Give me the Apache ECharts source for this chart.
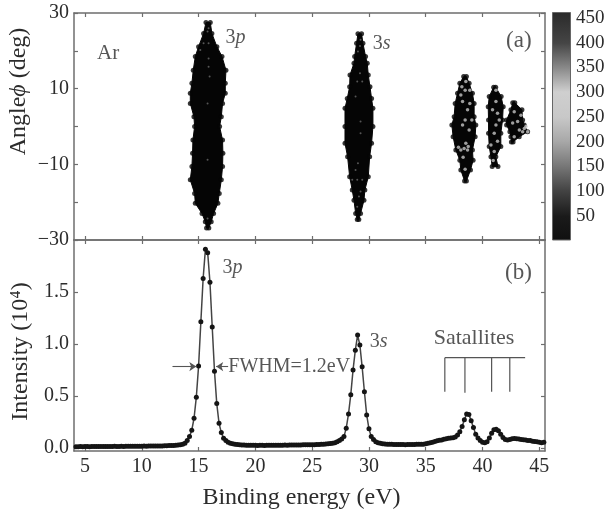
<!DOCTYPE html>
<html>
<head>
<meta charset="utf-8">
<style>html,body{margin:0;padding:0;background:#fff}#c{width:607px;height:511px;filter:blur(0.35px)}</style>
<script src="https://cdn.jsdelivr.net/npm/echarts@6/dist/echarts.min.js"></script>
</head>
<body>
<div id="c"></div>
<script>
// ---------- spectrum (panel b) ----------
const energy = [4.2,4.4,4.6,4.8,5.0,5.2,5.4,5.6,5.8,6.0,6.2,6.4,6.6,6.8,7.0,7.2,7.4,7.6,7.8,8.0,8.2,8.4,8.6,8.8,9.0,9.2,9.4,9.6,9.8,10.0,10.2,10.4,10.6,10.8,11.0,11.2,11.4,11.6,11.8,12.0,12.2,12.4,12.6,12.8,13.0,13.2,13.4,13.6,13.8,14.0,14.2,14.4,14.6,14.8,15.0,15.2,15.4,15.6,15.8,16.0,16.2,16.4,16.6,16.8,17.0,17.2,17.4,17.6,17.8,18.0,18.2,18.4,18.6,18.8,19.0,19.2,19.4,19.6,19.8,20.0,20.2,20.4,20.6,20.8,21.0,21.2,21.4,21.6,21.8,22.0,22.2,22.4,22.6,22.8,23.0,23.2,23.4,23.6,23.8,24.0,24.2,24.4,24.6,24.8,25.0,25.2,25.4,25.6,25.8,26.0,26.2,26.4,26.6,26.8,27.0,27.2,27.4,27.6,27.8,28.0,28.2,28.4,28.6,28.8,29.0,29.2,29.4,29.6,29.8,30.0,30.2,30.4,30.6,30.8,31.0,31.2,31.4,31.6,31.8,32.0,32.2,32.4,32.6,32.8,33.0,33.2,33.4,33.6,33.8,34.0,34.2,34.4,34.6,34.8,35.0,35.2,35.4,35.6,35.8,36.0,36.2,36.4,36.6,36.8,37.0,37.2,37.4,37.6,37.8,38.0,38.2,38.4,38.6,38.8,39.0,39.2,39.4,39.6,39.8,40.0,40.2,40.4,40.6,40.8,41.0,41.2,41.4,41.6,41.8,42.0,42.2,42.4,42.6,42.8,43.0,43.2,43.4,43.6,43.8,44.0,44.2,44.4,44.6,44.8,45.0,45.2,45.4];
const intensity = [.012,.012,.013,.012,.013,.013,.012,.013,.014,.013,.013,.014,.013,.014,.014,.013,.014,.015,.014,.014,.015,.014,.015,.015,.015,.016,.015,.016,.016,.016,.017,.016,.017,.018,.017,.018,.018,.019,.019,.02,.021,.022,.023,.024,.025,.027,.03,.035,.045,.07,.109,.17,.285,.488,.788,1.214,1.63,1.91,1.878,1.593,1.163,.737,.426,.237,.147,.093,.07,.055,.045,.04,.035,.033,.03,.028,.027,.026,.026,.025,.025,.025,.024,.025,.025,.024,.025,.025,.026,.025,.026,.026,.025,.026,.027,.026,.027,.027,.028,.028,.027,.028,.029,.029,.03,.03,.03,.031,.032,.033,.034,.035,.037,.04,.042,.045,.05,.06,.07,.085,.109,.19,.327,.512,.75,.94,1.085,.99,.78,.54,.317,.183,.109,.08,.06,.05,.045,.04,.038,.036,.035,.034,.033,.033,.032,.032,.032,.031,.032,.032,.033,.033,.034,.034,.035,.036,.04,.045,.05,.055,.062,.068,.073,.077,.082,.088,.093,.095,.097,.105,.125,.155,.205,.27,.325,.32,.26,.195,.13,.095,.07,.055,.05,.06,.095,.14,.175,.18,.165,.13,.1,.08,.075,.08,.088,.09,.088,.085,.08,.078,.075,.072,.07,.065,.062,.058,.055,.05,.053,.05,.048];

// ---------- contour outlines (panel a): angle, left and right energy edge ----------
const p3Angle = [27.5,24.6,21.1,18.5,14.9,11.4,8.8,6.1,2.6,0,-3.6,-7.1,-10.6,-14.1,-17.7,-20.3,-23,-25.2,-26.8];
const p3Left  = [15.65,15.44,15.0,14.71,14.53,14.41,14.27,14.27,14.59,14.65,14.5,14.47,14.41,14.27,14.65,14.71,15.3,15.59,15.7];
const p3Right = [16.03,16.17,16.61,17.06,17.41,17.35,17.35,17.11,17.0,16.85,17.11,17.14,17.11,17.0,16.82,16.7,16.32,16.11,15.9];
const s3Angle = [24.5,22,18.5,16.7,13.6,10.5,7.4,4.8,0,-4.4,-8,-13.3,-16.8,-19.5,-23,-24.6];
const s3Left  = [29.03,28.91,28.74,28.68,28.33,28.30,28.09,27.89,27.89,27.89,28.12,28.30,28.53,28.68,28.83,28.97];
const s3Right = [29.35,29.47,29.70,29.85,29.94,30.09,30.23,30.35,30.35,30.23,30.06,29.94,29.64,29.56,29.26,29.11];
const sat1Angle = [13.2,11.4,8.8,6.1,2.6,0.4,-2.7,-6.2,-8.9,-11.5,-14.4];
const sat1Left  = [38.34,38.0,37.8,37.59,37.5,37.3,37.41,37.65,38.0,38.09,38.42];
const sat1Right = [38.58,38.82,39.11,39.26,39.26,39.41,39.35,39.11,39.17,38.94,38.58];
const sat2Angle = [10.4,7.9,5.2,1.7,-1.8,-5.3,-8,-10.6];
const sat2Left  = [40.98,40.59,40.5,40.53,40.53,40.59,40.74,40.85];
const sat2Right = [41.16,41.64,41.82,41.76,41.61,41.61,41.17,41.36];
const sat3Angle = [6.3,4.4,1.7,0.4,-1.4,-2.7,-4.1];
const sat3Left  = [42.66,42.5,42.12,42.12,42.41,42.5,42.54];
const sat3Right = [42.84,43.47,43.53,43.67,43.97,43.23,42.69];

// lighter holes inside the contours
const holesMain = [[15.79,25.1],[15.88,22],[15.44,22],[15.15,20.2],[15.88,18],[15.97,13.2],[15.88,15.8],[15.79,6.1],[15.79,-8.8],[15.79,-24.3],[15.88,26],[29.26,22.9],[29.03,19.8],[29.21,14.1],[28.97,11.9],[29.41,11.9],[28.82,7.9],[29.26,1.3],[29.26,-1.8],[29.03,-9.7],[28.82,-11.5],[28.53,-14.1],[28.97,-14.1],[29.41,-14.1],[29.12,-18.5],[29.26,-17.2],[28.97,-21.2],[29.21,21.3]];
const holesSat = [[38.53,11.9],[38.18,10.5],[38.47,9.6],[38.09,8.3],[38.68,4.4],[38.47,1.7],[38.82,-0.9],[38.38,-5.8],[38.68,-6.2],[38.09,-6.2],[38.29,-8.1],[38.47,-11.3],[38.74,-5.3],[38.24,6.6],[38.88,6.1],[37.88,-5.5],[39.06,1.7],[38.53,-4.4],[38.24,0.4],[38.88,9.6],[41.18,6.6],[40.88,4.4],[41.32,3.5],[41.18,0.4],[41.47,1.7],[41.03,-1.8],[41.32,-3.9],[40.74,-4.9],[41.03,-6.6],[40.94,-9],[41.18,9.6],[42.79,3.9],[43.38,3],[43.09,1.3],[43.68,-0.5],[43.24,-0.9],[43.97,-1.4],[42.79,-2.7],[43.53,-1.4],[43.82,0],[42.65,0.9]];

// ---------- axes ----------
const xTicks = [5,10,15,20,25,30,35,40,45];
const angleTicks = [-30,-20,-10,0,10,20,30];
const angleLabels = [-30,-10,10,30];
const intensityTicks = [0,0.5,1.0,1.5];
const colorbarTicks = [50,100,150,200,250,300,350,400,450];

// ---------- annotations ----------
const satelliteMarks = [36.68,38.45,40.8,42.4];
const satelliteBar = [[36.68,.868],[43.75,.868]];
const satelliteBottoms = [.54,.53,.54,.54];
const fwhmLeft = [[12.7,.782],[14.8,.782]];
const fwhmRight = [[17.6,.782],[16.55,.782]];
const panelALabels = [
  {value:[6.06,19.2],text:'Ar',size:21},
  {value:[17.36,23.4],text:'{n|3}{i|p}',size:20},
  {value:[30.33,21.8],text:'{n|3}{i|s}',size:20},
  {value:[42.07,22.6],text:'(a)',size:23}
];
const panelBLabels = [
  {value:[41.98,1.683],text:'(b)',size:23},
  {value:[17.1,1.73],text:'{n|3}{i|p}',size:20},
  {value:[30.06,1.02],text:'{n|3}{i|s}',size:20},
  {value:[35.7,1.058],text:'Satallites',size:22},
  {value:[17.62,.779],text:'FWHM=1.2eV',size:20}
];

const FONT = 'Liberation Serif';
const INK = '#2c2c2c';
const FRAME = '#6e6e6e';
const blobs = [[p3Angle,p3Left,p3Right],[s3Angle,s3Left,s3Right],[sat1Angle,sat1Left,sat1Right],[sat2Angle,sat2Left,sat2Right],[sat3Angle,sat3Left,sat3Right]];
const edgeDots = [];
blobs.forEach(b=>b[0].forEach((a,i)=>{edgeDots.push([b[1][i],a]);edgeDots.push([b[2][i],a]);}));

const frameLine = {show:true,onZero:false,lineStyle:{color:FRAME,width:1.5}};
const tick = {show:true,inside:true,length:4,lineStyle:{color:FRAME,width:1.2}};
function xAxis(grid,pos,labels,extra){return Object.assign({type:'value',gridIndex:grid,min:4.03,max:45.5,position:pos,splitLine:{show:false},axisLine:frameLine,
  axisTick:Object.assign({},tick,{customValues:xTicks}),
  axisLabel:labels?{show:true,customValues:xTicks,color:INK,fontFamily:FONT,fontSize:20,margin:6}:{show:false}},extra||{});}
function yAxis(grid,pos,min,max,ticks,labels,fmt,extra){return Object.assign({type:'value',gridIndex:grid,min:min,max:max,position:pos,splitLine:{show:false},axisLine:frameLine,
  axisTick:Object.assign({},tick,{customValues:ticks}),
  axisLabel:labels?{show:true,customValues:labels,formatter:fmt,color:INK,fontFamily:FONT,fontSize:20,margin:5}:{show:false}},extra||{});}
function labelSeries(x,y,data){return {type:'scatter',xAxisIndex:x,yAxisIndex:y,symbolSize:0,silent:true,z:6,
  data:data.map(d=>({value:d.value,label:{show:true,position:'right',distance:0,formatter:d.text,fontFamily:FONT,fontSize:d.size,color:INK,
    rich:{n:{fontFamily:FONT,fontSize:d.size,color:INK},i:{fontFamily:FONT,fontStyle:'italic',fontSize:d.size,color:INK}}}}))};}

const option = {
  animation:false,
  backgroundColor:'#fff',
  grid:[
    {left:74,top:13,width:471,height:227,outerBoundsMode:'none'},
    {left:74,top:240,width:471,height:211,outerBoundsMode:'none'},
    {left:552,top:12,width:19,height:228,outerBoundsMode:'none'}
  ],
  xAxis:[
    xAxis(0,'bottom',false), xAxis(0,'top',false),
    xAxis(1,'bottom',true,{name:'Binding energy (eV)',nameLocation:'middle',nameGap:35,nameMoveOverlap:false,nameTextStyle:{color:INK,fontFamily:FONT,fontSize:24,padding:[0,16,0,0]}}),
    xAxis(1,'top',false),
    {type:'category',gridIndex:2,data:[''],axisLine:{show:false},axisTick:{show:false},axisLabel:{show:false}}
  ],
  yAxis:[
    yAxis(0,'left',-30,30,angleTicks,angleLabels,v=>String(v).replace('-','\u2212'),{name:'Angle{i|\u03D5} (deg)',nameLocation:'middle',nameGap:43,nameMoveOverlap:false,nameTextStyle:{color:INK,fontFamily:FONT,fontSize:24,padding:[0,0,0,70],rich:{i:{fontFamily:FONT,fontStyle:'italic',fontSize:24,color:INK}}}}),
    yAxis(0,'right',-30,30,angleTicks,null),
    yAxis(1,'left',-0.03,2,intensityTicks,intensityTicks,v=>v.toFixed(1),{name:'Intensity (10\u2074)',nameLocation:'middle',nameGap:41,nameMoveOverlap:false,nameTextStyle:{color:INK,fontFamily:FONT,fontSize:24,padding:[0,12,0,0]}}),
    yAxis(1,'right',-0.03,2,intensityTicks,null),
    {type:'value',gridIndex:2,min:1,max:462,position:'right',splitLine:{show:false},axisLine:{show:false},axisTick:{show:false},
      axisLabel:{show:true,customValues:colorbarTicks,color:INK,fontFamily:FONT,fontSize:19,margin:5}}
  ],
  series:[
    {type:'custom',xAxisIndex:0,yAxisIndex:0,data:blobs.map((b,i)=>[i]),z:2,silent:true,
      renderItem:(params,api)=>{
        const b = blobs[params.dataIndex];
        const pts = [];
        b[0].forEach((a,i)=>pts.push(api.coord([b[1][i],a])));
        for(let i=b[0].length-1;i>=0;i--) pts.push(api.coord([b[2][i],b[0][i]]));
        return {type:'polygon',shape:{points:pts},style:{fill:'#050505',stroke:'#050505',lineWidth:1}};
      }},
    {type:'scatter',xAxisIndex:0,yAxisIndex:0,data:edgeDots,symbolSize:5,itemStyle:{color:'#050505'},z:3,silent:true},
    {type:'scatter',xAxisIndex:0,yAxisIndex:0,data:holesMain,symbolSize:2,itemStyle:{color:'#6a6a6a'},z:4,silent:true},
    {type:'scatter',xAxisIndex:0,yAxisIndex:0,data:holesSat,symbolSize:3.5,itemStyle:{color:'#c4c4c4'},z:4,silent:true},
    labelSeries(0,0,panelALabels),
    {type:'line',xAxisIndex:2,yAxisIndex:2,data:energy.map((e,i)=>[e,intensity[i]]),symbol:'circle',symbolSize:5,showAllSymbol:true,
      lineStyle:{color:'#444',width:1.5},itemStyle:{color:'#151515'},z:3,silent:true},
    labelSeries(2,2,panelBLabels),
    {type:'line',xAxisIndex:2,yAxisIndex:2,data:satelliteBar,symbol:'none',lineStyle:{color:'#555',width:1.2},silent:true,z:2},
    ...satelliteMarks.map((m,i)=>({type:'line',xAxisIndex:2,yAxisIndex:2,data:[[m,.868],[m,satelliteBottoms[i]]],symbol:'none',lineStyle:{color:'#555',width:1.2},silent:true,z:2})),
    ...[fwhmLeft,fwhmRight].map(seg=>({type:'line',xAxisIndex:2,yAxisIndex:2,data:[],silent:true,
      markLine:{silent:true,animation:false,symbol:['none','arrow'],symbolSize:7,label:{show:false},lineStyle:{color:'#555',width:1.1,type:'solid'},
        data:[[{coord:seg[0]},{coord:seg[1]}]]}})),
    {type:'bar',xAxisIndex:4,yAxisIndex:4,data:[462],barWidth:'100%',silent:true,
      itemStyle:{borderColor:'#666',borderWidth:1,color:{type:'linear',x:0,y:0,x2:0,y2:1,colorStops:[
        {offset:0,color:'#2a2a2a'},{offset:.136,color:'#454545'},{offset:.246,color:'#8a8a8a'},{offset:.35,color:'#cfcfcf'},
        {offset:.46,color:'#c8c8c8'},{offset:.566,color:'#a8a8a8'},{offset:.675,color:'#777'},{offset:.785,color:'#424242'},
        {offset:.895,color:'#1a1a1a'},{offset:1,color:'#101010'}]}}}
  ]
};
const chart = echarts.init(document.getElementById('c'),null,{renderer:'canvas'});
chart.setOption(option);
</script>
</body>
</html>
